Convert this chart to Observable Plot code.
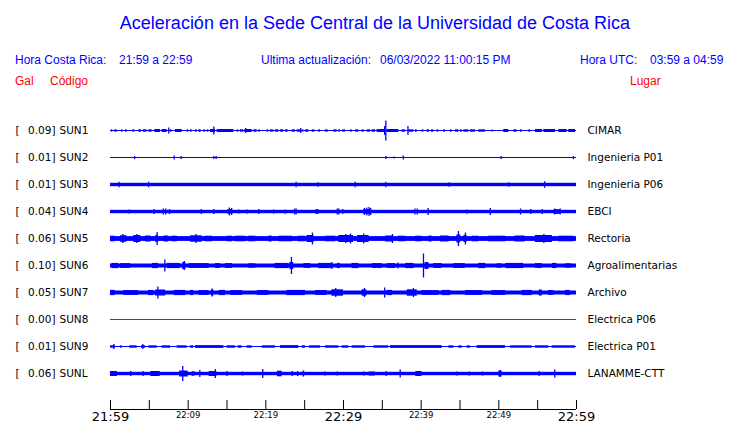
<!DOCTYPE html>
<html><head><meta charset="utf-8">
<script src="https://cdn.jsdelivr.net/npm/d3@7"></script>
<script src="https://cdn.jsdelivr.net/npm/@observablehq/plot@0.6"></script>
<style>
body{margin:0;background:#fff;}
#wrap{position:relative;width:740px;height:423px;overflow:hidden;background:#fff;}
#head{position:relative;width:740px;height:90px;font-family:"Liberation Sans",Arial,sans-serif;}
#head span{position:absolute;white-space:pre;line-height:1;}
.b{color:#0000ff;font-size:12px;}
.r{color:#ff0000;font-size:12px;}
#chart svg{display:block;}
</style></head><body>
<div id="wrap">
<div id="head">
<span id="title" style="left:0;width:750px;text-align:center;top:14px;font-size:18px;color:#0000ff;"></span>
<span class="b" style="left:15px;top:54px;">Hora Costa Rica:</span>
<span class="b" id="crTime" style="left:119px;top:54px;"></span>
<span class="b" style="left:261px;top:54px;">Ultima actualización:</span>
<span class="b" id="upd" style="left:380px;top:54px;"></span>
<span class="b" style="left:580px;top:54px;">Hora UTC:</span>
<span class="b" id="utcTime" style="left:650px;top:54px;"></span>
<span class="r" style="left:15px;top:75px;">Gal</span>
<span class="r" style="left:50px;top:75px;">Código</span>
<span class="r" style="left:630px;top:75px;">Lugar</span>
</div>
<div id="chart"></div>
</div>
<script>
// ---------- data ----------
const titleText = "Aceleración en la Sede Central de la Universidad de Costa Rica";
const crRange = "21:59 a 22:59";
const utcRange = "03:59 a 04:59";
const updated = "06/03/2022 11:00:15 PM";

const stations = ["SUN1","SUN2","SUN3","SUN4","SUN5","SUN6","SUN7","SUN8","SUN9","SUNL"];
const places = ["CIMAR","Ingenieria P01","Ingenieria P06","EBCI","Rectoria","Agroalimentarias","Archivo","Electrica P06","Electrica P01","LANAMME-CTT"];
const peakGal = [0.09,0.01,0.01,0.04,0.06,0.10,0.05,0.00,0.01,0.06];
// background noise half-amplitude (relative units)
const noiseLevel = [0.5,0.5,1.7,1.7,2.4,2.0,2.0,0.5,0.5,1.7];

// minutes after 21:59
const tickMinutes = [0,5,10,15,20,25,30,35,40,45,50,55,60];
const labelMinutes = [0,10,20,30,40,50,60];
const tickLabels = ["21:59","22:09","22:19","22:29","22:39","22:49","22:59"];
const majorLabel = [true,false,false,true,false,false,true];

// noisy stretches: [start min, end min, half amplitude]
const burstsSUN1 = [[0.13,0.3,1.2],[0.56,0.86,1.2],[1.42,1.59,1.2],[1.93,2.15,1.2],[2.88,3.13,1.2],[3.65,3.99,1.2],[4.21,4.72,1.2],[4.94,5.36,1.2],[5.71,6.44,1.5],[6.65,7.3,1.5],[7.73,7.94,1.2],[8.37,9.23,1.5],[9.87,10.09,1.2],[10.3,10.5,1.2],[10.94,11.16,1.2],[11.37,11.67,1.2],[12.02,12.23,1.2],[12.45,12.66,1.2],[12.88,13.52,1.5],[13.73,15.88,1.5],[16.31,16.52,1.2],[16.74,17.17,1.2],[17.3,18.24,1.5],[18.45,18.88,1.2],[19.1,19.31,1.2],[20.17,20.39,1.2],[20.6,21.03,1.2],[21.24,21.67,1.2],[21.89,22.32,1.2],[22.53,22.88,1.2],[23.39,23.82,1.2],[24.03,24.46,1.2],[24.68,24.89,1.2],[25.11,25.54,1.2],[25.97,26.31,1.2],[26.82,27.04,1.2],[27.68,28.03,1.2],[28.76,29.18,1.2],[29.4,29.61,1.2],[29.91,30.26,1.2],[30.9,31.12,1.2],[31.55,31.97,1.2],[32.4,32.66,1.2],[33.05,33.48,1.2],[33.69,34.12,1.2],[34.33,35.41,1.5],[35.62,37.12,1.5],[37.55,37.98,1.2],[38.41,39.06,1.2],[39.27,39.48,1.2],[40.13,40.34,1.2],[40.77,41.07,1.2],[41.33,41.63,1.2],[42.06,42.27,1.2],[42.92,43.13,1.2],[43.78,43.99,1.2],[44.42,44.85,1.2],[45.06,45.28,1.2],[45.49,46.14,1.2],[46.35,46.99,1.2],[47.42,48.28,1.2],[49.14,49.27,1.2],[50.64,51.29,1.5],[51.93,52.36,1.2],[52.79,53.0,1.2],[53.86,54.08,1.2],[54.72,55.6,1.5],[55.8,57.3,1.5],[57.73,58.8,1.5],[59.0,59.87,1.5]];
const burstsSUN2 = [];
const burstsSUN3 = [];
const burstsSUN4 = [[15.1,15.7,2.3],[32.6,33.6,2.3],[57.1,58.0,2.2]];
const burstsSUN5 = [[0,0.6,2.8],[1.3,2.1,3.3],[3.0,3.9,3.5],[4.5,5.2,3],[5.8,6.2,3.3],[6.9,7.5,3],[7.9,8.6,2.8],[10.3,11.8,3.2],[12.2,13.1,2.8],[15.0,15.7,2.8],[16.1,17.4,2.8],[17.8,18.7,2.8],[20.4,20.8,3],[21.7,23.4,2.8],[24.2,25.1,2.8],[25.3,26.2,3.5],[27.7,29.0,2.8],[29.4,31.3,3.5],[31.8,33.3,3.5],[35.4,36.3,3],[37.1,38.0,2.8],[39.3,40.1,2.8],[41.0,41.4,3],[42.5,43.6,3],[44.6,45.1,4],[45.5,45.9,3.5],[46.6,47.4,2.8],[48.7,50.9,2.8],[52.1,53.4,3],[54.7,56.9,3.5],[57.7,59.7,2.8]];
const burstsSUN6 = [[0.2,1.1,2.6],[1.3,2.6,2.4],[5.4,6.2,2.6],[7.3,9.0,2.6],[9.3,9.7,3.5],[10.1,12.7,2.4],[13.5,14.2,2.4],[14.8,15.7,2.4],[17.8,18.7,2.2],[21.2,23.0,2.6],[23.1,23.6,3.5],[24.9,25.8,2.4],[26.8,28.5,2.6],[29.2,29.6,2.6],[31.1,32.0,2.6],[33.7,35.0,2.4],[35.6,36.7,2.4],[38.0,39.1,2.6],[40.5,41.0,3.5],[41.6,42.7,2.4],[44.2,45.7,2.4],[47.4,48.3,2.6],[49.8,50.4,2.2],[50.9,53.2,2.6],[54.7,55.6,2.4],[56.9,57.5,2.6],[58.6,59.4,2.2]];
const burstsSUN7 = [[0,0.6,2.6],[1.7,3.6,2.4],[4.9,5.6,2.6],[5.8,7.1,3],[8.2,9.7,2.6],[10.3,10.7,2.6],[11.4,12.7,2.4],[13.0,13.3,3],[14.0,14.8,2.6],[15.5,17.0,2.4],[18.9,20.4,2.4],[22.7,25.1,2.6],[26.4,27.9,2.4],[28.5,30.0,3.2],[32.4,33.0,3.2],[35.6,36.3,2.6],[38.2,39.5,3.2],[40.1,42.3,2.4],[42.7,43.8,2.6],[45.7,47.9,2.4],[49.1,50.9,2.4],[53.0,54.3,2.6],[55.2,55.6,3],[56.4,57.1,2.4],[58.6,59.2,2.6]];
const burstsSUN8 = [];
const burstsSUN9 = [[0,0.64,1.2],[1.29,1.5,1.2],[2.45,3.43,1.2],[3.99,4.51,1.2],[4.94,6.01,1.2],[6.65,7.73,1.2],[8.58,9.87,1.2],[10.3,10.73,1.2],[10.94,14.59,1.4],[15.02,16.09,1.2],[16.44,16.95,1.2],[17.6,18.24,1.2],[19.53,21.24,1.2],[21.89,24.25,1.4],[24.68,25.11,1.2],[25.62,27.04,1.2],[27.68,29.4,1.2],[29.83,30.69,1.2],[31.12,32.83,1.2],[33.91,35.84,1.2],[36.05,42.7,1.4],[43.56,44.21,1.2],[44.85,45.28,1.2],[45.92,46.35,1.2],[47.21,50.86,1.4],[51.5,54.29,1.2],[54.72,56.44,1.2],[56.87,59.87,1.2]];
const burstsSUNL = [[0,0.9,2.5],[5.2,6.4,2.5],[8.9,10.0,3],[10.5,10.9,2.2],[12.7,13.7,2.5],[21.5,22.1,2.8],[24.8,25.0,3],[33.3,34.1,2.0],[39.3,40.1,2.5],[50.0,50.4,3]];

// isolated peaks: [minute, half amplitude]
const spikesSUN1 = [[7.5,3],[13.3,4],[17.4,2.5],[24.5,2.5],[35.3,4.5],[35.45,10],[38.3,4.5]];
const spikesSUN2 = [[3.1,1.5],[8.2,2],[9.1,1.5],[13.3,1.5],[13.6,1.5],[35.45,1.5],[36.5,1],[37.7,2],[50.3,1.5],[59.6,1.5]];
const spikesSUN3 = [[1.1,2.8],[4.9,2.8],[23.9,2.8],[26.7,2.3],[31.5,2.8],[35.45,2.8],[43.6,2.3],[51.3,2.3],[55.9,3.2]];
const spikesSUN4 = [[2.4,2],[5.6,2.5],[6.8,3],[7.1,3],[7.6,2.5],[11.7,2.5],[13.3,2.5],[15.3,4],[15.6,3.5],[16.5,2],[17.6,2],[19.1,2.5],[21.0,2],[22.5,2],[23.7,3],[23.9,3],[26.5,2.5],[26.7,2.5],[29.2,3],[29.4,3],[29.9,2.5],[32.7,3.5],[33.0,4],[33.3,4.5],[33.5,3.5],[39.2,3],[39.5,3],[40.9,3.5],[45.9,2],[48.9,3.5],[52.8,3],[54.1,2.5],[55.6,2.5],[57.2,3],[57.5,2.5],[57.9,3]];
const spikesSUN5 = [[1.6,4.5],[3.4,4.5],[6.0,6.5],[11.0,4.5],[26.0,6],[30.3,4.5],[30.9,5],[32.6,5],[36.3,4.5],[44.8,7.5],[45.7,6],[55.8,4.5]];
const spikesSUN6 = [[7.0,6],[9.5,4.5],[23.3,8.5],[28.5,3.5],[37.0,3],[40.3,12]];
const spikesSUN7 = [[6.1,6],[13.1,4],[29.0,4.5],[32.7,4.5],[35.3,5],[39.0,4.5]];
const spikesSUN8 = [];
const spikesSUN9 = [[0.43,2.5],[4.16,2.5]];
const spikesSUNL = [[2.6,2.5],[4.2,2.5],[9.3,7.5],[11.5,3.5],[13.5,4.5],[15.0,2.5],[17.0,2],[19.6,4.5],[23.4,2.5],[24.1,2.5],[27.6,2],[29.2,2],[32.6,2],[35.5,2.5],[37.3,4],[44.6,2],[46.2,2],[47.9,2],[50.2,3.5],[55.2,2.5],[57.2,4]];

// ---------- build ----------
const burstsBy = [burstsSUN1,burstsSUN2,burstsSUN3,burstsSUN4,burstsSUN5,burstsSUN6,burstsSUN7,burstsSUN8,burstsSUN9,burstsSUNL];
const spikesBy = [spikesSUN1,spikesSUN2,spikesSUN3,spikesSUN4,spikesSUN5,spikesSUN6,spikesSUN7,spikesSUN8,spikesSUN9,spikesSUNL];

document.getElementById("title").textContent = titleText;
document.getElementById("crTime").textContent = crRange;
document.getElementById("utcTime").textContent = utcRange;
document.getElementById("upd").textContent = updated;

const traceColor = p => p === 0 ? "#ff0000" : "#0000ff";
const rows = stations.map((s, i) => ({i, code: s, place: places[i], peak: peakGal[i], noise: noiseLevel[i], color: traceColor(peakGal[i])}));
const bursts = [], spikes = [];
burstsBy.forEach((arr, i) => arr.forEach(([t0, t1, a]) => bursts.push({i, t0, t1, a, color: rows[i].color})));
spikesBy.forEach((arr, i) => arr.forEach(([t, a]) => spikes.push({i, t, a, color: rows[i].color})));
const ticks = labelMinutes.map((m, k) => ({m, label: tickLabels[k], major: majorLabel[k]}));

const H = 333, PX = 1 / 27, top0 = 40.5;
const yDomain = [-top0 * PX, (H - top0) * PX];
const axisRow = (319 - top0) * PX;
const t0 = 0, t1 = 60;

const chart = Plot.plot({
  width: 740, height: H,
  marginLeft: 110, marginRight: 164, marginTop: 0, marginBottom: 0,
  x: {domain: [t0, t1], axis: null},
  y: {domain: yDomain, range: [0, H], axis: null},
  color: {type: "identity"},
  style: {fontFamily: "DejaVu Sans", fontSize: "10.5px", background: "white", overflow: "visible"},
  marks: [
    Plot.rect(rows, {x1: () => t0, x2: () => t1, y1: d => d.i - d.noise * PX, y2: d => d.i + d.noise * PX, fill: "color"}),
    Plot.rect(bursts, {x1: "t0", x2: "t1", y1: d => d.i - d.a * PX, y2: d => d.i + d.a * PX, fill: "color"}),
    Plot.ruleX(spikes, {x: "t", y1: d => d.i - d.a * PX, y2: d => d.i + d.a * PX, stroke: "color", strokeWidth: 1.3}),
    Plot.text(rows, {y: "i", text: () => "[", frameAnchor: "left", dx: -95, textAnchor: "start", fill: "black"}),
    Plot.text(rows, {y: "i", text: d => d.peak.toFixed(2) + "]", frameAnchor: "left", dx: -55, textAnchor: "end", fill: "black"}),
    Plot.text(rows, {y: "i", text: "code", frameAnchor: "left", dx: -51, textAnchor: "start", fill: "black"}),
    Plot.text(rows, {y: "i", text: "place", frameAnchor: "right", dx: 11, textAnchor: "start", fill: "black"}),
    Plot.ruleY([axisRow], {x1: () => t0, x2: () => t1, stroke: "black"}),
    Plot.ruleX(tickMinutes, {x: d => d, y1: () => axisRow - 9 * PX, y2: () => axisRow, stroke: "black"}),
    Plot.text(ticks.filter(d => d.major), {x: "m", y: () => axisRow, text: "label", dy: 7, fontSize: 13, fill: "black"}),
    Plot.text(ticks.filter(d => !d.major), {x: "m", y: () => axisRow, text: "label", dy: 5.5, fontSize: 8.5, fill: "black"})
  ]
});
document.getElementById("chart").appendChild(chart);
</script>
</body></html>
